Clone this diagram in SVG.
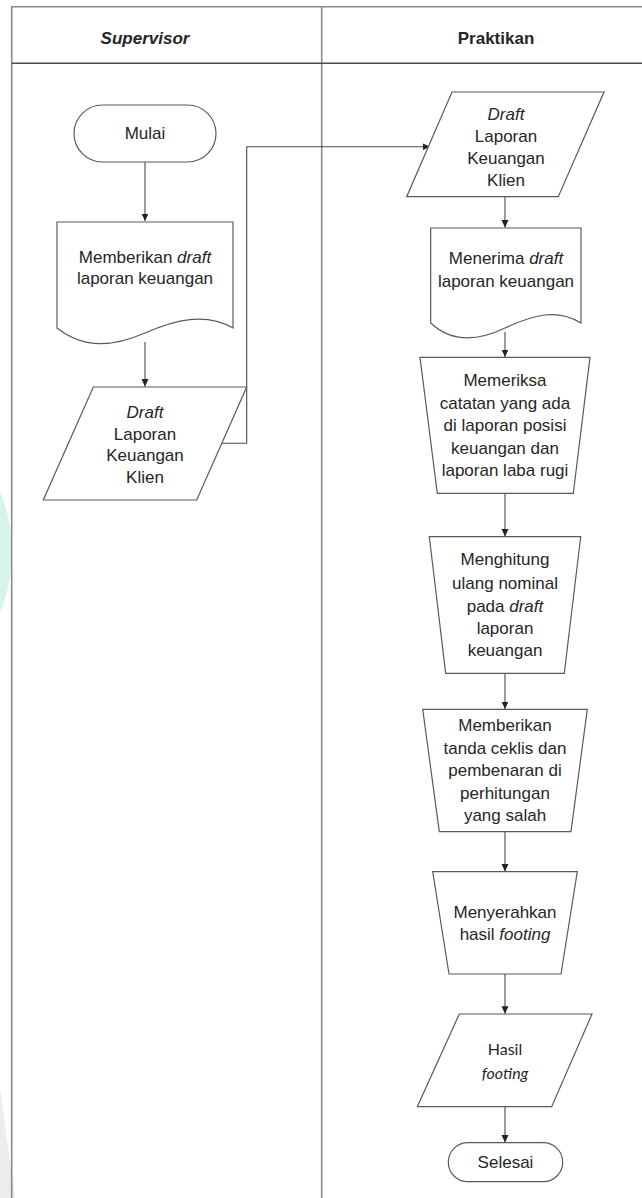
<svg xmlns="http://www.w3.org/2000/svg" width="642" height="1198" viewBox="0 0 642 1198">
<style>
.shape{fill:#fff;stroke:#5a5a5a;stroke-width:1.2}
.lane{fill:none;stroke:#8a8a8a;stroke-width:1.6}
.hline{fill:none;stroke:#4a4a4a;stroke-width:1.4}
.conn{fill:none;stroke:#4a4a4a;stroke-width:1.1}
text{font-family:"Liberation Sans",Arial,sans-serif;font-size:17px;fill:#262626;text-anchor:middle}
.hdr{font-weight:bold}
.cal{font-family:Lato,"Open Sans",sans-serif;font-size:16px}
</style>
<defs>
<marker id="arr" markerWidth="8" markerHeight="8" refX="7.5" refY="4" orient="auto" markerUnits="userSpaceOnUse">
<path d="M0,0.5 L7.5,4 L0,7.5 Z" fill="#222"/>
</marker>
</defs>
<rect width="642" height="1198" fill="#fff"/>
<g id="watermark">
<ellipse cx="-60" cy="552" rx="72" ry="110" fill="#d6f6ea"/>
<path d="M0,1088 L15,1198 H0 Z" fill="#ececec"/>
</g>
<g id="lanes">
<path class="lane" d="M11.7,1198 V6.7 H660"/>
<path class="lane" d="M321.7,6.7 V1198"/>
<path class="hline" d="M11.7,63.3 H660"/>
<text class="hdr" x="145" y="44" font-style="italic">Supervisor</text>
<text class="hdr" x="496" y="44">Praktikan</text>
</g>
<g id="connectors">
<path class="conn" d="M145,162 V221" marker-end="url(#arr)"/>
<path class="conn" d="M145,342 V386.5" marker-end="url(#arr)"/>
<path class="conn" d="M221.8,443.3 H246.7 V146.7 H430" marker-end="url(#arr)"/>
<path class="conn" d="M505,196.7 V227.5" marker-end="url(#arr)"/>
<path class="conn" d="M505,332 V357" marker-end="url(#arr)"/>
<path class="conn" d="M505,493.3 V536.5" marker-end="url(#arr)"/>
<path class="conn" d="M505,673.3 V709" marker-end="url(#arr)"/>
<path class="conn" d="M505,831.7 V871.5" marker-end="url(#arr)"/>
<path class="conn" d="M505,974 V1013.8" marker-end="url(#arr)"/>
<path class="conn" d="M505,1106.7 V1142.5" marker-end="url(#arr)"/>
</g>
<g id="mulai">
<rect class="shape" x="74" y="105" width="142" height="57" rx="28.5"/>
<text x="145" y="139">Mulai</text>
</g>
<g id="memberikan-draft">
<path class="shape" d="M57,222 H233 V328 C205,312 175,320 145,333 C115,346 85,350 57,328 Z"/>
<text x="145" y="263">Memberikan <tspan font-style="italic">draft</tspan></text>
<text x="145" y="284">laporan keuangan</text>
</g>
<g id="draft-supervisor">
<path class="shape" d="M93.3,387 H246.7 L196.7,500 H43.3 Z"/>
<text x="145" y="418" font-style="italic">Draft</text>
<text x="145" y="439.5">Laporan</text>
<text x="145" y="461">Keuangan</text>
<text x="145" y="483">Klien</text>
</g>
<g id="draft-praktikan">
<path class="shape" d="M452,92 H604 L558.3,196.7 H406.7 Z"/>
<text x="506" y="120" font-style="italic">Draft</text>
<text x="506" y="141.5">Laporan</text>
<text x="506" y="164">Keuangan</text>
<text x="506" y="186">Klien</text>
</g>
<g id="menerima-draft">
<path class="shape" d="M430.7,228 H581 V323 C557,308 533,315 505,328 C478,341 452,343 430.7,323 Z"/>
<text x="506" y="264">Menerima <tspan font-style="italic">draft</tspan></text>
<text x="506" y="287">laporan keuangan</text>
</g>
<g id="memeriksa">
<path class="shape" d="M420,357.3 H590 L573.3,493.3 H437.3 Z"/>
<text x="505" y="386">Memeriksa</text>
<text x="505" y="408.5">catatan yang ada</text>
<text x="505" y="431">di laporan posisi</text>
<text x="505" y="454">keuangan dan</text>
<text x="505" y="476">laporan laba rugi</text>
</g>
<g id="menghitung">
<path class="shape" d="M429.3,536.7 H580.7 L564.3,673.3 H445.7 Z"/>
<text x="505" y="565">Menghitung</text>
<text x="505" y="588.5">ulang nominal</text>
<text x="505" y="611.5">pada <tspan font-style="italic">draft</tspan></text>
<text x="505" y="634">laporan</text>
<text x="505" y="656">keuangan</text>
</g>
<g id="memberikan-tanda">
<path class="shape" d="M422.7,709.3 H587.3 L571,831.7 H439.3 Z"/>
<text x="505" y="731">Memberikan</text>
<text x="505" y="754">tanda ceklis dan</text>
<text x="505" y="776">pembenaran di</text>
<text x="505" y="798.5">perhitungan</text>
<text x="505" y="821">yang salah</text>
</g>
<g id="menyerahkan">
<path class="shape" d="M432.7,871.7 H577.3 L561,974 H449 Z"/>
<text x="505" y="917.5">Menyerahkan</text>
<text x="505" y="940">hasil <tspan font-style="italic">footing</tspan></text>
</g>
<g id="hasil-footing">
<path class="shape" d="M459.3,1014 H592 L551.7,1106.7 H417.3 Z"/>
<text class="cal" x="505" y="1055">Hasil</text>
<text class="cal" x="505" y="1078.5" font-style="italic">footing</text>
</g>
<g id="selesai">
<rect class="shape" x="448.3" y="1142.7" width="114.4" height="39" rx="19.5"/>
<text x="505.5" y="1168">Selesai</text>
</g>
</svg>
